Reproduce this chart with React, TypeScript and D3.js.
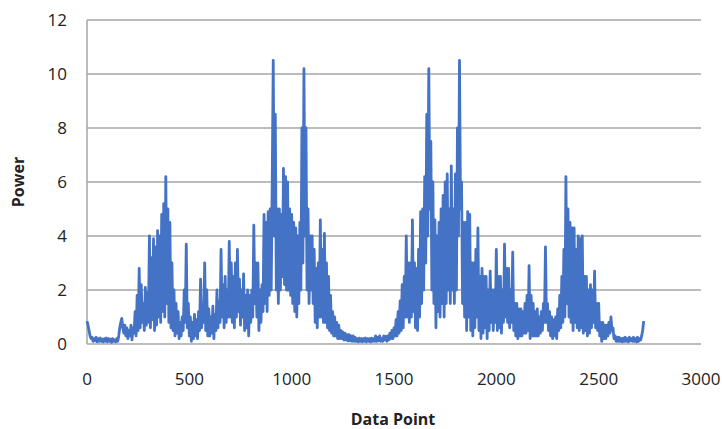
import React from 'react';
import * as d3 from 'd3';

const step = 5;
const power: number[] = [
  // 0-95
  0.85, 0.7, 0.5, 0.3, 0.2, 0.25, 0.1, 0.2, 0.12, 0.25, 0.08, 0.2, 0.1, 0.22, 0.1, 0.18, 0.08, 0.2, 0.1, 0.22,
  // 100-195
  0.08, 0.2, 0.1, 0.18, 0.06, 0.2, 0.1, 0.15, 0.08, 0.2, 0.1, 0.3, 0.6, 0.8, 0.95, 0.6, 0.4, 0.7, 0.3, 0.6,
  // 200-295
  0.2, 0.5, 0.3, 0.7, 0.15, 0.6, 0.4, 1.2, 0.3, 1.8, 0.5, 2.8, 0.6, 2.2, 0.8, 1.5, 0.5, 2.1, 0.7, 1.9,
  // 300-395
  0.8, 4.0, 0.6, 3.2, 0.9, 3.9, 0.5, 3.6, 0.7, 4.2, 1.0, 4.0, 0.8, 4.8, 1.2, 5.2, 1.0, 6.2, 1.5, 5.0,
  // 400-495
  0.8, 4.5, 0.6, 3.0, 0.5, 2.0, 0.3, 1.5, 0.4, 1.2, 0.2, 0.8, 0.3, 1.0, 0.5, 2.0, 0.8, 3.7, 0.6, 1.5,
  // 500-595
  0.3, 1.0, 0.1, 0.8, 0.2, 1.1, 0.3, 0.9, 0.2, 1.2, 0.5, 2.4, 0.6, 1.5, 0.8, 3.0, 0.5, 2.0, 0.3, 1.3,
  // 600-695
  0.3, 1.0, 0.4, 1.4, 0.2, 1.1, 0.5, 2.0, 0.6, 1.6, 0.8, 3.5, 1.0, 2.2, 0.6, 2.5, 0.8, 2.0, 1.0, 3.8,
  // 700-795
  1.0, 3.0, 0.8, 2.5, 0.6, 3.0, 1.0, 3.5, 1.2, 2.4, 0.7, 2.0, 1.0, 2.6, 0.5, 1.8, 0.6, 2.0, 0.3, 1.8,
  // 800-895
  0.8, 2.0, 1.0, 4.4, 1.5, 3.0, 1.0, 3.0, 0.5, 2.0, 0.8, 2.2, 1.2, 4.8, 1.5, 4.5, 1.2, 4.9, 1.8, 5.0,
  // 900-995
  2.0, 6.0, 10.5, 4.0, 8.5, 2.0, 5.0, 1.5, 5.0, 2.0, 4.8, 2.5, 6.5, 2.2, 6.2, 2.0, 6.0, 2.0, 5.0, 1.8,
  // 1000-1095
  4.8, 1.5, 4.5, 1.2, 4.3, 1.0, 4.0, 1.5, 4.5, 2.0, 8.0, 3.0, 10.2, 4.0, 8.0, 2.0, 5.0, 1.5, 4.0, 2.0,
  // 1100-1195
  4.0, 1.5, 3.5, 0.8, 2.8, 0.6, 3.0, 1.0, 4.6, 1.0, 3.5, 0.8, 4.1, 0.8, 3.0, 0.6, 2.5, 0.5, 1.8, 0.4,
  // 1200-1295
  1.2, 0.3, 1.0, 0.3, 0.8, 0.2, 0.7, 0.2, 0.5, 0.2, 0.45, 0.15, 0.4, 0.15, 0.35, 0.12, 0.35, 0.12, 0.3, 0.1,
  // 1300-1395
  0.3, 0.1, 0.25, 0.1, 0.2, 0.08, 0.22, 0.1, 0.2, 0.08, 0.2, 0.1, 0.22, 0.08, 0.2, 0.1, 0.2, 0.08, 0.22, 0.1,
  // 1400-1495
  0.2, 0.1, 0.3, 0.1, 0.25, 0.12, 0.3, 0.1, 0.2, 0.1, 0.3, 0.15, 0.28, 0.1, 0.3, 0.15, 0.4, 0.2, 0.5, 0.2,
  // 1500-1595
  0.6, 0.3, 0.9, 0.3, 1.2, 0.4, 1.6, 0.5, 2.2, 0.6, 2.5, 1.0, 4.0, 1.0, 3.0, 0.8, 3.0, 1.0, 4.6, 1.2,
  // 1600-1695
  3.0, 0.6, 2.8, 0.5, 3.5, 1.0, 4.9, 1.5, 5.0, 2.0, 6.2, 3.0, 8.5, 4.0, 10.2, 5.0, 7.5, 2.0, 6.0, 1.5,
  // 1700-1795
  4.6, 0.6, 4.0, 1.2, 4.5, 1.0, 5.0, 1.5, 5.5, 1.0, 6.0, 1.5, 6.3, 2.0, 5.0, 1.5, 6.6, 2.0, 5.0, 1.5,
  // 1800-1895
  6.3, 2.0, 8.0, 4.0, 10.5, 5.0, 6.0, 1.5, 4.5, 1.0, 4.5, 0.5, 4.9, 1.0, 4.8, 0.5, 3.0, 0.3, 3.0, 0.6,
  // 1900-1995
  3.5, 1.0, 4.3, 0.5, 2.5, 0.2, 2.8, 0.4, 2.5, 0.6, 2.5, 0.2, 2.0, 0.5, 2.7, 0.8, 2.0, 0.5, 2.0, 0.8,
  // 2000-2095
  3.5, 0.5, 2.5, 0.6, 2.5, 0.4, 2.0, 0.8, 3.7, 1.0, 2.8, 0.8, 2.8, 0.6, 2.0, 0.8, 3.4, 0.5, 1.5, 0.3,
  // 2100-2195
  1.5, 0.2, 1.3, 0.3, 1.3, 0.3, 1.2, 0.4, 1.5, 0.4, 1.8, 0.5, 2.9, 0.2, 1.8, 0.3, 1.5, 0.3, 1.2, 0.3,
  // 2200-2295
  1.3, 0.3, 1.0, 0.4, 1.2, 0.5, 1.5, 0.8, 3.6, 0.8, 1.5, 0.5, 1.2, 0.3, 1.0, 0.2, 0.9, 0.3, 1.0, 0.2,
  // 2300-2395
  1.3, 0.5, 1.8, 0.6, 2.5, 0.8, 3.5, 1.0, 6.2, 1.5, 5.0, 1.0, 4.5, 0.8, 4.3, 0.5, 4.3, 0.8, 3.5, 0.6,
  // 2400-2495
  4.0, 0.5, 3.9, 0.6, 4.0, 0.4, 2.5, 0.5, 2.5, 0.3, 2.0, 0.4, 2.2, 0.6, 2.0, 0.8, 2.7, 0.6, 1.5, 0.5,
  // 2500-2595
  1.5, 0.3, 0.8, 0.1, 0.8, 0.2, 0.7, 0.2, 0.7, 0.3, 0.8, 0.4, 1.0, 0.5, 0.6, 0.2, 0.3, 0.1, 0.25, 0.1,
  // 2600-2695
  0.25, 0.1, 0.2, 0.08, 0.22, 0.1, 0.25, 0.1, 0.2, 0.08, 0.25, 0.12, 0.2, 0.1, 0.25, 0.1, 0.2, 0.08, 0.25, 0.1,
  // 2700-2720
  0.2, 0.15, 0.3, 0.5, 0.85,
];

const xTicks = [0, 500, 1000, 1500, 2000, 2500, 3000];
const yTicks = [0, 2, 4, 6, 8, 10, 12];

const W = 723;
const H = 429;
const FONT = "'Open Sans', 'Liberation Sans', sans-serif";

export default function App() {
  const x = d3.scaleLinear().domain([0, 3000]).range([87, 701]);
  const y = d3.scaleLinear().domain([0, 12]).range([344, 20]);

  const line = d3
    .line<number>()
    .x((_, i) => x(i * step))
    .y((d) => y(d));

  return (
    <svg
      width={W}
      height={H}
      style={{ position: 'absolute', left: 0, top: 0, background: '#fff' }}
    >
      {/* grid */}
      {yTicks.map((t) => (
        <line
          key={'g' + t}
          x1={x(0)}
          x2={x(3000)}
          y1={y(t)}
          y2={y(t)}
          stroke="#a6a6a6"
          strokeWidth={1.5}
        />
      ))}
      <line x1={x(0)} x2={x(0)} y1={y(12)} y2={y(0)} stroke="#a6a6a6" strokeWidth={1.5} />

      <path
        d={line(power) || ''}
        fill="none"
        stroke="#4472c4"
        strokeWidth={2.8}
        strokeLinejoin="round"
      />

      {/* y labels */}
      {yTicks.map((t) => (
        <text
          key={'y' + t}
          x={67}
          y={y(t)}
          dy="0.36em"
          textAnchor="end"
          fontFamily={FONT}
          fontSize={17}
          fill="#222"
        >
          {t}
        </text>
      ))}
      {/* x labels */}
      {xTicks.map((t) => (
        <text
          key={'x' + t}
          x={x(t)}
          y={385}
          textAnchor="middle"
          fontFamily={FONT}
          fontSize={17}
          fill="#222"
        >
          {t}
        </text>
      ))}

      <text
        x={393}
        y={425}
        textAnchor="middle"
        fontFamily={FONT}
        fontSize={16}
        fontWeight="bold"
        fill="#222"
      >
        Data Point
      </text>
      <text
        transform={`translate(24,${y(6)}) rotate(-90)`}
        textAnchor="middle"
        fontFamily={FONT}
        fontSize={16}
        fontWeight="bold"
        fill="#222"
      >
        Power
      </text>
    </svg>
  );
}
